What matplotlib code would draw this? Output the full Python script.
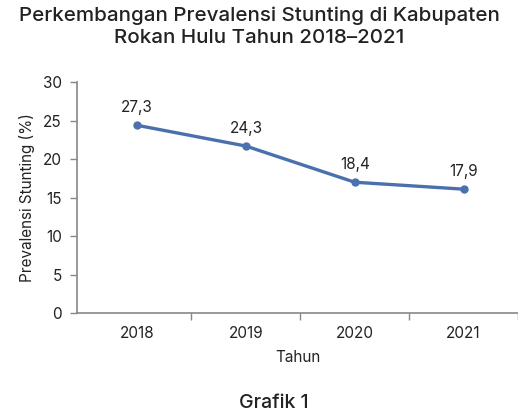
import matplotlib
matplotlib.use('Agg')
import matplotlib.pyplot as plt

plt.rcParams['font.family'] = ['Inter', 'DejaVu Sans']

tahun = ['2018', '2019', '2020', '2021']
# plotted positions (as drawn in the reference) and the printed labels
nilai = [24.4, 21.7, 17.0, 16.1]
label_nilai = ['27,3', '24,3', '18,4', '17,9']
yticks = [0, 5, 10, 15, 20, 25, 30]

fig = plt.figure(figsize=(5.18, 4.13), dpi=100)
ax = fig.add_axes([0.149, 0.242, 0.851, 0.559])

x = list(range(len(tahun)))
ax.plot(x, nilai, color='#4a70ae', linewidth=2.4, marker='o', markersize=5)

for xi, yi, lab in zip(x, nilai, label_nilai):
    ax.annotate(lab, (xi, yi), xytext=(0, 12.5), textcoords='offset points',
                ha='center', va='center', fontsize=11, color='#222222')

ax.set_xlim(-0.55, 3.5)
ax.set_ylim(0, 30)
ax.set_yticks(yticks)
ax.set_xticks(x)
ax.set_xticklabels(tahun)
ax.set_xticks([0.5, 1.5, 2.5, 3.5], minor=True)
ax.tick_params(axis='x', which='major', length=0, pad=9, labelsize=11, labelcolor='#222222')
ax.tick_params(axis='x', which='minor', length=5, width=1, color='#888888')
ax.tick_params(axis='y', length=5, width=1, color='#888888', labelsize=11, labelcolor='#222222', pad=6)

for s in ['top', 'right']:
    ax.spines[s].set_visible(False)
for s in ['left', 'bottom']:
    ax.spines[s].set_color('#888888')
    ax.spines[s].set_linewidth(1.2)

ax.set_xlabel('Tahun', fontsize=11, color='#222222', labelpad=7)
ax.set_ylabel('Prevalensi Stunting (%)', fontsize=11, color='#222222', labelpad=6)

fig.text(0.5, 1 - 16 / 413, 'Perkembangan Prevalensi Stunting di Kabupaten',
         ha='center', va='center', fontsize=14.8, fontweight='medium', color='#222222')
fig.text(0.5, 1 - 38 / 413, 'Rokan Hulu Tahun 2018\u20132021',
         ha='center', va='center', fontsize=14.8, fontweight='medium', color='#222222')
fig.text(0.529, 1 - 403 / 413, 'Grafik 1', ha='center', va='center', fontsize=14,
         fontweight='medium', color='#222222')

fig.savefig('out.png', dpi=100, facecolor='white')
